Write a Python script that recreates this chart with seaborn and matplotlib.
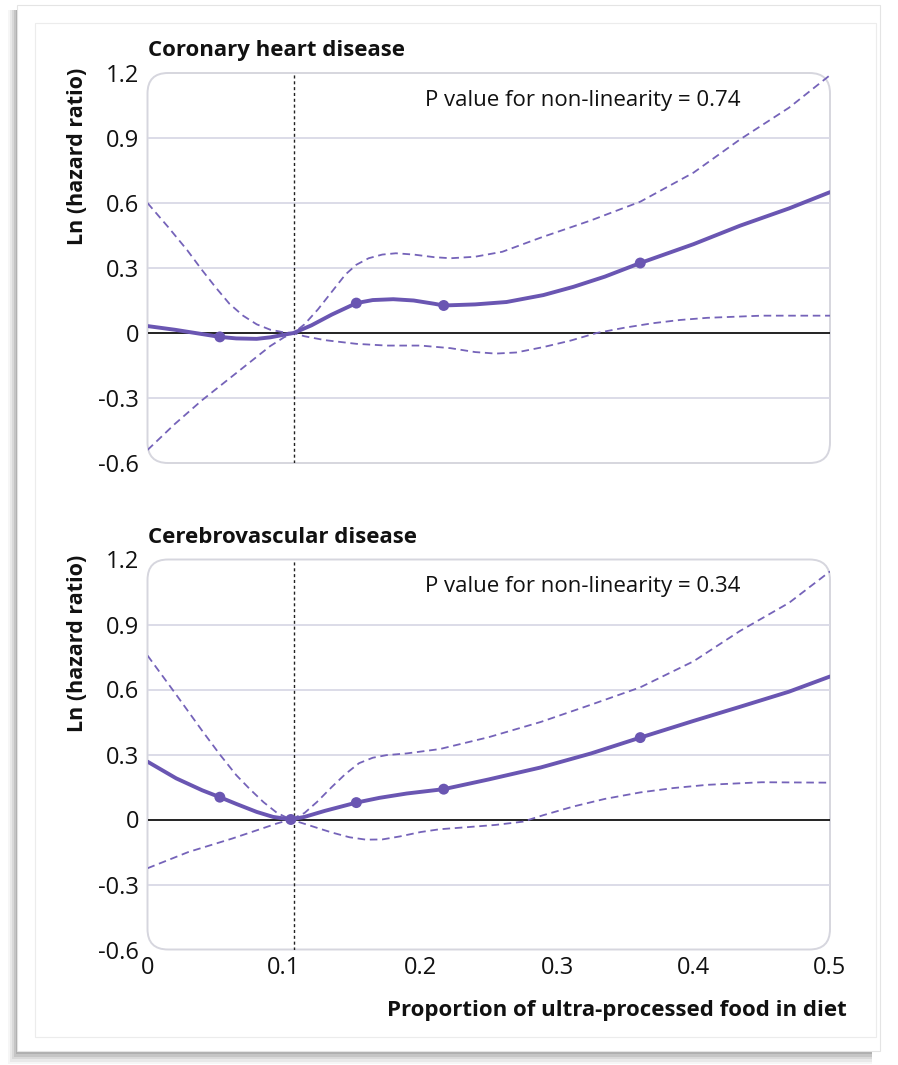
import matplotlib
matplotlib.use("Agg")
import matplotlib.pyplot as plt
import seaborn as sns
from matplotlib.patches import FancyBboxPatch, Rectangle

# ---------------- data ----------------
ref_x = 0.107
x_ticks = [0, 0.1, 0.2, 0.3, 0.4, 0.5]
x_tick_labels = ["0", "0.1", "0.2", "0.3", "0.4", "0.5"]
y_ticks = [-0.6, -0.3, 0, 0.3, 0.6, 0.9, 1.2]
y_tick_labels = ["-0.6", "-0.3", "0", "0.3", "0.6", "0.9", "1.2"]

titles = ["Coronary heart disease", "Cerebrovascular disease"]
p_texts = ["P value for non-linearity = 0.74", "P value for non-linearity = 0.34"]
x_label = "Proportion of ultra-processed food in diet"
y_label = "Ln (hazard ratio)"

top_main_x = [0, 0.02, 0.04, 0.053, 0.065, 0.08, 0.09, 0.1, 0.107, 0.12, 0.135, 0.153, 0.165, 0.18, 0.195,
              0.21, 0.217, 0.24, 0.263, 0.29, 0.312, 0.335, 0.361, 0.4, 0.434, 0.47, 0.5]
top_main_y = [0.032, 0.015, -0.005, -0.018, -0.025, -0.027, -0.02, -0.008, 0, 0.035, 0.085, 0.138, 0.152, 0.156,
              0.15, 0.135, 0.127, 0.132, 0.143, 0.175, 0.213, 0.26, 0.323, 0.41, 0.495, 0.575, 0.65]
top_upper_x = [0, 0.015, 0.029, 0.04, 0.05, 0.06, 0.07, 0.08, 0.09, 0.1, 0.107, 0.115, 0.125, 0.135, 0.145,
               0.153, 0.162, 0.172, 0.182, 0.195, 0.21, 0.222, 0.24, 0.26, 0.288, 0.325, 0.361, 0.4, 0.434,
               0.47, 0.5]
top_upper_y = [0.6, 0.49, 0.383, 0.29, 0.21, 0.135, 0.08, 0.04, 0.015, 0.003, 0, 0.04, 0.11, 0.19, 0.27,
               0.315, 0.345, 0.362, 0.368, 0.362, 0.35, 0.345, 0.352, 0.375, 0.44, 0.52, 0.606, 0.74, 0.893,
               1.04, 1.19]
top_lower_x = [0, 0.02, 0.04, 0.062, 0.08, 0.09, 0.1, 0.107, 0.115, 0.13, 0.153, 0.175, 0.2, 0.222, 0.24,
               0.255, 0.27, 0.29, 0.31, 0.329, 0.35, 0.37, 0.39, 0.41, 0.45, 0.5]
top_lower_y = [-0.54, -0.42, -0.31, -0.2, -0.11, -0.06, -0.02, 0, -0.015, -0.033, -0.05, -0.058, -0.058, -0.07,
               -0.088, -0.095, -0.09, -0.065, -0.035, 0, 0.025, 0.045, 0.06, 0.07, 0.08, 0.08]
top_pts_x = [0.053, 0.153, 0.217, 0.361]
top_pts_y = [-0.018, 0.138, 0.127, 0.323]

bot_main_x = [0, 0.021, 0.04, 0.053, 0.065, 0.08, 0.092, 0.105, 0.115, 0.13, 0.153, 0.17, 0.19, 0.217, 0.25,
              0.288, 0.325, 0.361, 0.4, 0.434, 0.47, 0.5]
bot_main_y = [0.267, 0.19, 0.135, 0.103, 0.072, 0.035, 0.012, 0, 0.012, 0.04, 0.078, 0.1, 0.12, 0.14, 0.185,
              0.24, 0.305, 0.378, 0.455, 0.52, 0.59, 0.66]
bot_upper_x = [0, 0.02, 0.04, 0.053, 0.065, 0.075, 0.085, 0.095, 0.105, 0.115, 0.124, 0.135, 0.145, 0.155,
               0.165, 0.175, 0.19, 0.214, 0.25, 0.288, 0.325, 0.361, 0.4, 0.434, 0.47, 0.5]
bot_upper_y = [0.757, 0.585, 0.41, 0.3, 0.205, 0.14, 0.08, 0.03, 0, 0.03, 0.08, 0.15, 0.21, 0.26,
               0.285, 0.297, 0.305, 0.325, 0.38, 0.45, 0.53, 0.61, 0.73, 0.87, 1.0, 1.145]
bot_lower_x = [0, 0.03, 0.062, 0.08, 0.095, 0.105, 0.115, 0.125, 0.135, 0.148, 0.16, 0.172, 0.185, 0.2, 0.214,
               0.235, 0.255, 0.275, 0.29, 0.312, 0.335, 0.361, 0.385, 0.41, 0.45, 0.5]
bot_lower_y = [-0.225, -0.15, -0.088, -0.05, -0.018, 0, -0.02, -0.04, -0.06, -0.082, -0.093, -0.092, -0.078,
               -0.058, -0.045, -0.035, -0.025, -0.01, 0.02, 0.06, 0.095, 0.125, 0.145, 0.16, 0.172, 0.17]
bot_pts_x = [0.053, 0.105, 0.153, 0.217, 0.361]
bot_pts_y = [0.103, 0, 0.078, 0.14, 0.378]

panels = [
    dict(main=(top_main_x, top_main_y), upper=(top_upper_x, top_upper_y),
         lower=(top_lower_x, top_lower_y), pts=(top_pts_x, top_pts_y)),
    dict(main=(bot_main_x, bot_main_y), upper=(bot_upper_x, bot_upper_y),
         lower=(bot_lower_x, bot_lower_y), pts=(bot_pts_x, bot_pts_y)),
]

# ---------------- style ----------------
sns.set_theme(style="white")
FONT = ["Open Sans", "DejaVu Sans"]
plt.rcParams["font.family"] = FONT
PURPLE = "#6a56b2"
DASH = "#7563b9"
GRID = "#d9d9e6"
FRAME = "#d6d6de"
INK = "#111111"
FS_TEXT = 16
FS_TICK = 17
FS_YLAB = 15.5

W, H = 898, 1065
fig = plt.figure(figsize=(W / 100, H / 100), dpi=100)
fig.patch.set_facecolor("white")

def fx(px):
    return px / W

def fy(py):
    return 1 - py / H

# card shadow and card (behind axes)
for i, a in enumerate([0.06, 0.09, 0.13, 0.18, 0.25]):
    x0 = 8 + i * 2
    y1 = 1064 - i * 2.5
    fig.patches.append(Rectangle((fx(x0), fy(y1)), fx(872 - x0), (y1 - 10) / H,
                                 transform=fig.transFigure, facecolor="#6e6e6e", alpha=a,
                                 edgecolor="none", zorder=-10))
fig.patches.append(Rectangle((fx(17), fy(1051)), fx(880 - 17), (1051 - 5) / H, transform=fig.transFigure,
                             facecolor="white", edgecolor="#e4e4e4", lw=0.8, zorder=-5))
fig.patches.append(Rectangle((fx(35), fy(1037)), fx(876 - 35), (1037 - 23) / H, transform=fig.transFigure,
                             facecolor="white", edgecolor="#ececec", lw=0.8, zorder=-4))

ax_left = 147.5
ax_right = 830
tops = [73, 559.5]
ax_h = 390

for k, (panel, top) in enumerate(zip(panels, tops)):
    ax = fig.add_axes([fx(ax_left), fy(top + ax_h), fx(ax_right - ax_left), ax_h / H])
    ax.set_zorder(1)
    ax.set_facecolor("none")
    ax.set_xlim(0, 0.5)
    ax.set_ylim(-0.6, 1.2)
    for s in ax.spines.values():
        s.set_visible(False)
    # rounded frame
    ax.add_patch(FancyBboxPatch((0, 0), 1, 1, boxstyle="round,pad=0,rounding_size=0.03",
                                transform=ax.transAxes, facecolor="none", edgecolor=FRAME, lw=1.4,
                                mutation_aspect=(ax_right - ax_left) / ax_h,
                                clip_on=False, zorder=1))
    for yv in y_ticks[1:-1]:
        if yv == 0:
            ax.axhline(0, color=INK, lw=1.3, zorder=2)
        else:
            ax.axhline(yv, color=GRID, lw=1.3, zorder=1)
    ax.axvline(ref_x, color="#222222", lw=1.0, ls=(0, (2.2, 2.0)), zorder=2)

    mx, my = panel["main"]
    ux, uy = panel["upper"]
    lx, ly = panel["lower"]
    px_, py_ = panel["pts"]
    sns.lineplot(x=ux, y=uy, ax=ax, color=DASH, lw=1.3, estimator=None, zorder=3)
    sns.lineplot(x=lx, y=ly, ax=ax, color=DASH, lw=1.3, estimator=None, zorder=3)
    for ln in ax.get_lines()[-2:]:
        ln.set_dashes((4.2, 2.6))
    sns.lineplot(x=mx, y=my, ax=ax, color=PURPLE, lw=2.8, estimator=None, zorder=4)
    sns.scatterplot(x=px_, y=py_, ax=ax, color=PURPLE, s=62, edgecolor="none", zorder=5)

    ax.set_yticks(y_ticks)
    ax.set_yticklabels(y_tick_labels)
    ax.set_xticks(x_ticks)
    ax.tick_params(axis="y", length=0, pad=6, labelsize=FS_TICK, colors=INK)
    ax.tick_params(axis="x", direction="in", length=8, width=1.2, color=FRAME, labelsize=FS_TICK,
                   colors=INK, pad=5)
    if k == 0:
        ax.set_xticklabels([])
    else:
        ax.set_xticklabels(x_tick_labels)
        ax.text((847 - ax_left) / (ax_right - ax_left), -0.157, x_label, transform=ax.transAxes,
                fontsize=FS_TEXT, fontweight="bold", color=INK, ha="right", va="center")
    ax.set_ylabel(y_label, fontsize=FS_YLAB, fontweight="bold", color=INK)
    ax.yaxis.set_label_coords((88 - ax_left) / (ax_right - ax_left), 0.785)
    ax.text(0, 1.03, titles[k], transform=ax.transAxes, fontsize=FS_TEXT, fontweight="bold",
            color=INK, ha="left", va="bottom")
    ax.text((425 - ax_left) / (ax_right - ax_left), 0.93, p_texts[k], transform=ax.transAxes,
            fontsize=FS_TEXT, color=INK, ha="left", va="center")

fig.savefig("out.png", dpi=100, facecolor="white")
